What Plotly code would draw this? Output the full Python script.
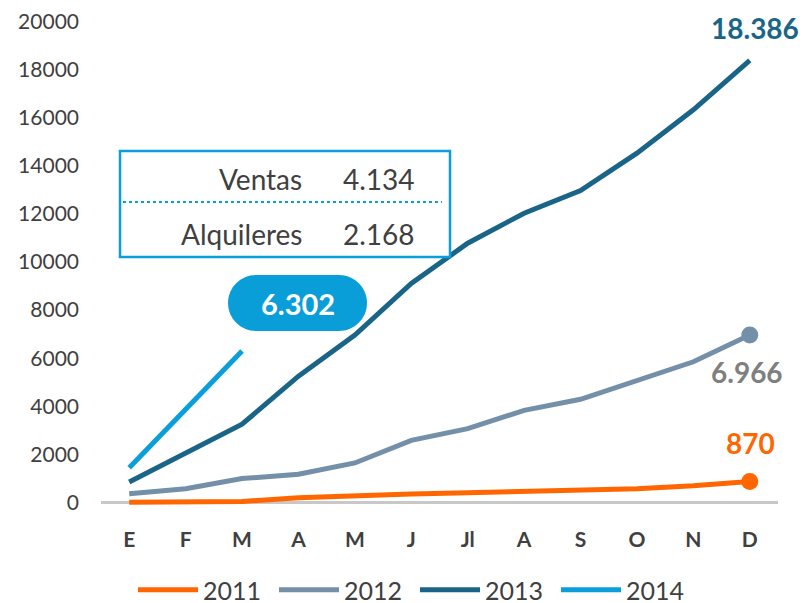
import plotly.graph_objects as go

months = ["E", "F", "M", "A", "M", "J", "Jl", "A", "S", "O", "N", "D"]
y2011 = [10, 20, 40, 190, 290, 350, 400, 460, 500, 570, 690, 870]
y2012 = [360, 570, 990, 1170, 1640, 2580, 3070, 3830, 4290, 5080, 5850, 6966]
y2013 = [850, 2050, 3250, 5250, 6960, 9110, 10780, 12030, 12970, 14530, 16330, 18386]
y2014 = [1445, 3860, 6302]
years = ["2011", "2012", "2013", "2014"]
ytick_vals = [0, 2000, 4000, 6000, 8000, 10000, 12000, 14000, 16000, 18000, 20000]
box_labels = ["Ventas", "Alquileres"]
box_values = ["4.134", "2.168"]

C2011 = "#FF6600"
C2012 = "#7490A8"
C2013 = "#1A6587"
C2014 = "#0A9FDA"
TXT = "#404040"
FONT = "Lato"

W, H = 802, 603
L, R, T, B = 101, 24, 12, 91
PW, PH = W - L - R, H - T - B


def px(x):
    return (x - L) / PW


def py(y):
    return (T + PH - y) / PH


def fmt(v):
    return f"{v:,}".replace(",", ".")


xi = list(range(len(months)))

fig = go.Figure()
series = [(years[0], y2011, C2011, True), (years[1], y2012, C2012, True),
          (years[2], y2013, C2013, False), (years[3], y2014, C2014, False)]
for name, vals, col, endmark in series:
    n = len(vals)
    fig.add_trace(go.Scatter(
        x=xi[:n], y=vals, name=name, mode="lines",
        line=dict(color=col, width=5),
        hoverinfo="skip",
    ))
    if endmark:
        fig.add_trace(go.Scatter(
            x=[xi[n - 1]], y=[vals[-1]], mode="markers", showlegend=False,
            marker=dict(size=17, color=col), hoverinfo="skip",
        ))

annotations = []
# end labels
annotations.append(dict(x=11, y=y2013[-1], xref="x", yref="y", text=f"<b>{fmt(y2013[-1])}</b>",
                        showarrow=False, xshift=5, yshift=32,
                        font=dict(family=FONT, size=28, color=C2013)))
annotations.append(dict(x=11, y=y2012[-1], xref="x", yref="y", text=f"<b>{fmt(y2012[-1])}</b>",
                        showarrow=False, xshift=-3, yshift=-37,
                        font=dict(family=FONT, size=28, color="#7F7F7F")))
annotations.append(dict(x=11, y=y2011[-1], xref="x", yref="y", text=f"<b>{fmt(y2011[-1])}</b>",
                        showarrow=False, xshift=1, yshift=38,
                        font=dict(family=FONT, size=28, color=C2011)))

shapes = []
# axis baseline
shapes.append(dict(type="line", xref="x", yref="y", x0=-0.5, x1=11.5, y0=0, y1=0,
                   line=dict(color="#C8C8C8", width=3), layer="below"))
# info box
shapes.append(dict(type="rect", xref="paper", yref="paper",
                   x0=px(120), x1=px(450), y0=py(257), y1=py(151),
                   line=dict(color=C2014, width=2.5), fillcolor="white", layer="above"))
shapes.append(dict(type="line", xref="paper", yref="paper",
                   x0=px(123), x1=px(442), y0=py(202), y1=py(202),
                   line=dict(color=C2014, width=2, dash="dot"), layer="above"))
rows_y = [179, 234]
for lab, val, ry in zip(box_labels, box_values, rows_y):
    annotations.append(dict(x=px(304), y=py(ry), xref="paper", yref="paper", text=lab,
                            showarrow=False, xanchor="right", yanchor="middle",
                            font=dict(family=FONT, size=28, color=TXT)))
    annotations.append(dict(x=px(417), y=py(ry), xref="paper", yref="paper", text=val,
                            showarrow=False, xanchor="right", yanchor="middle",
                            font=dict(family=FONT, size=28, color=TXT)))

# pill
x0p, x1p, y0p, y1p = 228, 367, 275, 331
r = (y1p - y0p) / 2
k = 0.5523 * r
pts = [
    ("M", [(x0p + r, y0p)]),
    ("L", [(x1p - r, y0p)]),
    ("C", [(x1p - r + k, y0p), (x1p, y0p + r - k), (x1p, y0p + r)]),
    ("C", [(x1p, y0p + r + k), (x1p - r + k, y1p), (x1p - r, y1p)]),
    ("L", [(x0p + r, y1p)]),
    ("C", [(x0p + r - k, y1p), (x0p, y0p + r + k), (x0p, y0p + r)]),
    ("C", [(x0p, y0p + r - k), (x0p + r - k, y0p), (x0p + r, y0p)]),
]
path = ""
for cmd, ps in pts:
    path += cmd + " " + " ".join(f"{px(a):.5f},{py(b):.5f}" for a, b in ps) + " "
path += "Z"
shapes.append(dict(type="path", xref="paper", yref="paper", path=path,
                   fillcolor="#0A9ED9", line=dict(width=0), layer="above"))
annotations.append(dict(x=px((x0p + x1p) / 2), y=py((y0p + y1p) / 2), xref="paper", yref="paper",
                        text=f"<b>{fmt(y2014[-1])}</b>", showarrow=False,
                        xanchor="center", yanchor="middle",
                        font=dict(family=FONT, size=29, color="white")))

fig.update_layout(
    width=W, height=H,
    margin=dict(l=L, r=R, t=T, b=B, autoexpand=False),
    paper_bgcolor="white", plot_bgcolor="white",
    font=dict(family=FONT, color=TXT),
    xaxis=dict(tickmode="array", tickvals=xi, ticktext=[f"<b>{m}</b>" for m in months],
               range=[-0.5, 11.5], showgrid=False, zeroline=False, showline=False,
               tickfont=dict(family=FONT, size=21, color=TXT), ticks="",
               ticklabelstandoff=13),
    yaxis=dict(range=[-400, 20400], tickmode="array", tickvals=ytick_vals,
               ticktext=[str(v) for v in ytick_vals],
               showgrid=False, zeroline=False, showline=False, ticks="",
               tickfont=dict(family=FONT, size=21, color=TXT), ticklabelstandoff=21),
    legend=dict(orientation="h", x=px(133), xanchor="left", y=py(590), yanchor="middle",
                font=dict(family=FONT, size=25, color=TXT), entrywidth=66,
                entrywidthmode="pixels", itemwidth=60, bgcolor="rgba(0,0,0,0)"),
    shapes=shapes,
    annotations=annotations,
    hovermode=False,
)

fig.write_html("out.html", config={"displayModeBar": False},
               post_script="document.body.style.margin='0px';")
